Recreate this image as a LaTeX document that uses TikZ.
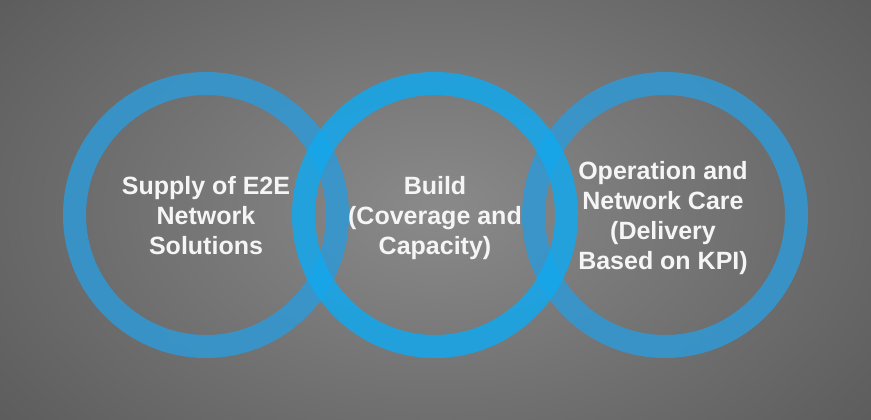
\documentclass[tikz,border=0pt]{standalone}
\usepackage{fontspec}
\setmainfont{Liberation Sans}
\definecolor{bgin}{RGB}{138,138,138}
\definecolor{bgout}{RGB}{92,92,92}
\definecolor{sidering}{RGB}{50,152,210}
\definecolor{midring}{RGB}{18,168,238}
\definecolor{txt}{RGB}{245,245,245}
\tikzset{
  ringstyle/.style={line width=23pt, opacity=0.88},
  label/.style={align=center, text=txt, font=\bfseries\fontsize{25}{30}\selectfont,
    inner sep=0pt, text depth=0pt, anchor=south}
}
\begin{document}
\begin{tikzpicture}[x=1pt,y=-1pt]
  \useasboundingbox (0,0) rectangle (871,420);
  \shade[inner color=bgin, outer color=bgout] (-120,-140) rectangle (991,560);
  \node[label] (t1) at (206,255) {Supply of E2E\\Network\\Solutions};
  \node[label] (t2) at (435,255) {Build\\(Coverage and\\Capacity)};
  \node[label] (t3) at (663,270) {Operation and\\Network Care\\(Delivery\\Based on KPI)};
  \coordinate (c1) at (206,215);
  \coordinate (c2) at (435,215);
  \coordinate (c3) at (665,215);
  \draw[ringstyle, draw=sidering] (c1) circle[radius=131.5];
  \draw[ringstyle, draw=sidering] (c3) circle[radius=131.5];
  \draw[ringstyle, draw=midring, opacity=0.85] (c2) circle[radius=131.5];
\end{tikzpicture}
\end{document}
